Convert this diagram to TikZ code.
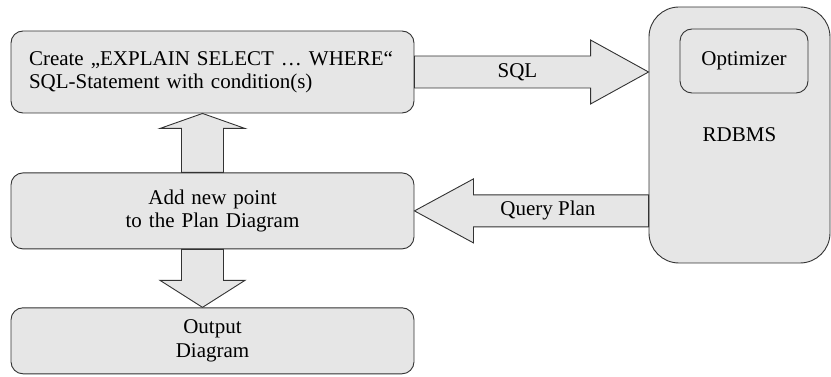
\documentclass[tikz,border=0pt]{standalone}
\usepackage{fontspec}
\setmainfont{Liberation Serif}
\usetikzlibrary{calc,positioning}

\definecolor{boxgray}{HTML}{E6E6E6}
\definecolor{edgegray}{HTML}{333333}

\begin{document}
\begin{tikzpicture}[
  x=1pt, y=1pt,
  font=\fontsize{21}{23.5}\selectfont,
  box/.style={draw=edgegray, fill=boxgray, rounded corners=12pt, line width=0.9pt,
              text width=367pt, inner xsep=18pt, align=center, minimum height=#1},
  box/.default=76pt,
  % block arrow: shaft half width, head half width, head length
  fat/.style n args={3}{draw=edgegray, fill=boxgray, line width=0.9pt, line join=miter,
    to path={
      ($(\tikztotarget)!#3!(\tikztostart)$) coordinate (neck)
      ($(\tikztostart)!#1!90:(\tikztotarget)$)
      -- ($(neck)!#1!90:(\tikztotarget)$)
      -- ($(neck)!#2!90:(\tikztotarget)$)
      -- (\tikztotarget)
      -- ($(neck)!#2!-90:(\tikztotarget)$)
      -- ($(neck)!#1!-90:(\tikztotarget)$)
      -- ($(\tikztostart)!#1!-90:(\tikztotarget)$)
      -- cycle}}
]
  \useasboundingbox (0,0) rectangle (831,-377);

  \node[box=82pt, align=left] (create) at (212.5,-72)
    {Create „EXPLAIN SELECT … WHERE“\\SQL-Statement with condition(s)};
  \node[box, below=59pt of create] (addpt) {Add new point\\to the Plan Diagram};
  \node[box=66pt, below=58pt of addpt] (output) {Output\\Diagram};

  \node[box=256pt, text width=145pt, rounded corners=30pt] (rdbms) at (739.5,-135) {RDBMS};
  \node[box=64pt, text width=92pt, anchor=north] (optimizer)
    at ([xshift=4.5pt, yshift=-22pt]rdbms.north) {Optimizer};

  % arrow ends
  \coordinate (sqlfrom) at (create.east);
  \coordinate (sqltip) at (create.east -| rdbms.west);
  \coordinate (planfrom) at (addpt.east -| rdbms.west);
  \coordinate (planto) at (addpt.east);
  \coordinate (upfrom) at ([xshift=-10pt]addpt.north);
  \coordinate (uptip) at ([xshift=-10pt]create.south);
  \coordinate (downfrom) at ([xshift=-10pt]addpt.south);
  \coordinate (downtip) at ([xshift=-10pt]output.north);

  \draw[fat={16pt}{32pt}{58pt}] (sqlfrom) to (sqltip);
  \draw[fat={16pt}{32pt}{59pt}] (planfrom) to (planto);
  \draw[fat={21pt}{42.5pt}{15pt}] (upfrom) to (uptip);
  \draw[fat={21pt}{42.5pt}{27pt}] (downfrom) to (downtip);

  \node (sqllabel) at ($(sqlfrom)!0.44!(sqltip)$) {SQL};
  \node (planlabel) at ($(planto)!0.57!(planfrom)$) {Query Plan};
\end{tikzpicture}
\end{document}
